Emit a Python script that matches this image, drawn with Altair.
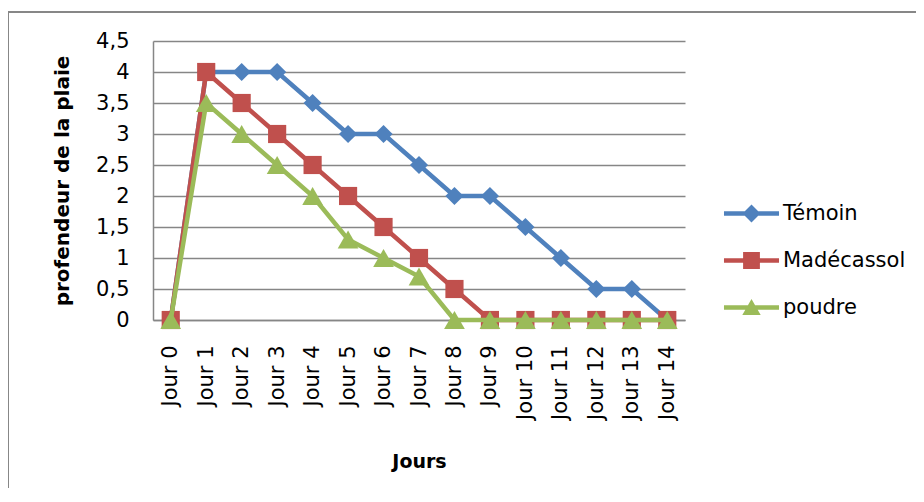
import altair as alt
import pandas as pd

days = ["Jour 0", "Jour 1", "Jour 2", "Jour 3", "Jour 4", "Jour 5", "Jour 6", "Jour 7",
        "Jour 8", "Jour 9", "Jour 10", "Jour 11", "Jour 12", "Jour 13", "Jour 14"]
temoin = [0, 4, 4, 4, 3.5, 3, 3, 2.5, 2, 2, 1.5, 1, 0.5, 0.5, 0]
madecassol = [0, 4, 3.5, 3, 2.5, 2, 1.5, 1, 0.5, 0, 0, 0, 0, 0, 0]
poudre = [0, 3.5, 3, 2.5, 2, 1.3, 1, 0.7, 0, 0, 0, 0, 0, 0, 0]

series_names = ["Témoin", "Madécassol", "poudre"]
series_colors = ["#4F81BD", "#C0504D", "#9BBB59"]
series_shapes = ["diamond", "square", "triangle-up"]
series_sizes = [330, 330, 430]
y_ticks = [0, 0.5, 1, 1.5, 2, 2.5, 3, 3.5, 4, 4.5]

rows = []
for name, vals in zip(series_names, [temoin, madecassol, poudre]):
    for d, v in zip(days, vals):
        rows.append({"jour": d, "valeur": v, "serie": name})
df = pd.DataFrame(rows)

FONT = "DejaVu Sans"
GRID = "#868686"

LINE = "M-3.44,-0.27H3.44V0.27H-3.44Z "
legend_paths = [
    LINE + "M0,-1.12L1.12,0L0,1.12L-1.12,0Z",
    LINE + "M-1.05,-1.05H1.05V1.05H-1.05Z",
    LINE + "M0,-1.05L1.15,0.95L-1.15,0.95Z",
]

legend = alt.Legend(
    orient="none", legendX=588, legendY=162, title=None, padding=0,
    labelFont=FONT, labelFontSize=21, labelColor="black", labelOffset=21,
    rowPadding=25, symbolSize=256, symbolStrokeWidth=0, symbolOpacity=1,
)

x_enc = alt.X(
    "jour:N", sort=days, scale=alt.Scale(type="point", padding=0.5),
    axis=alt.Axis(title="Jours", labelAngle=270, labelFont=FONT, labelFontSize=21,
                  labelColor="black", labelPadding=25, ticks=False, grid=False,
                  domainColor=GRID, domainWidth=1.5, titleFont=FONT, titleFontSize=19,
                  titleFontWeight="bold", titleColor="black", titleY=141,
                  titleBaseline="middle"),
)
y_enc = alt.Y(
    "valeur:Q", scale=alt.Scale(domain=[0, 4.5], nice=False),
    axis=alt.Axis(values=y_ticks, title="profendeur de la plaie",
                  labelExpr="replace(format(datum.value, '~g'), '.', ',')",
                  labelFont=FONT, labelFontSize=21, labelColor="black", labelPadding=24,
                  ticks=False, grid=True, gridColor=GRID, gridWidth=1.5,
                  domainColor=GRID, domainWidth=1.5, titleFont=FONT, titleFontSize=20,
                  titleFontWeight="bold", titleColor="black", titleX=-91,
                  titleBaseline="middle"),
)
color_enc = alt.Color("serie:N", scale=alt.Scale(domain=series_names, range=series_colors),
                      legend=None)

base = alt.Chart(df)

# legend-only layer, fully transparent: gives line + marker legend symbols
legend_layer = base.mark_point(filled=True, fillOpacity=0, size=256).encode(
    x=x_enc, y=y_enc,
    fill=alt.Fill("serie:N", scale=alt.Scale(domain=series_names, range=series_colors),
                  legend=legend),
    shape=alt.Shape("serie:N", scale=alt.Scale(domain=series_names, range=legend_paths),
                    legend=legend),
)

layers = []
for name, shape, size in zip(series_names, series_shapes, series_sizes):
    sub = base.transform_filter(alt.datum.serie == name)
    layers.append(sub.mark_line(strokeWidth=4.5).encode(x=x_enc, y=y_enc, color=color_enc))
    layers.append(sub.mark_point(shape=shape, filled=True, size=size, opacity=1)
                  .encode(x=x_enc, y=y_enc, color=color_enc))

frame = pd.DataFrame({"k": [0]})
top_border = alt.Chart(frame).mark_rule(color="#878787", strokeWidth=2).encode(
    x=alt.value(-145), x2=alt.value(763), y=alt.value(-29))
left_border = alt.Chart(frame).mark_rule(color="#878787", strokeWidth=2).encode(
    x=alt.value(-145), y=alt.value(-29), y2=alt.value(447))

chart = alt.layer(top_border, left_border, legend_layer, *layers).properties(
    width=532, height=279,
    autosize=alt.AutoSizeParams(type="none"),
    padding={"left": 145, "top": 33, "right": 231, "bottom": 168},
    background="white",
).configure_view(stroke=None)

chart.save("out.html", embed_options={"renderer": "svg", "actions": False})
